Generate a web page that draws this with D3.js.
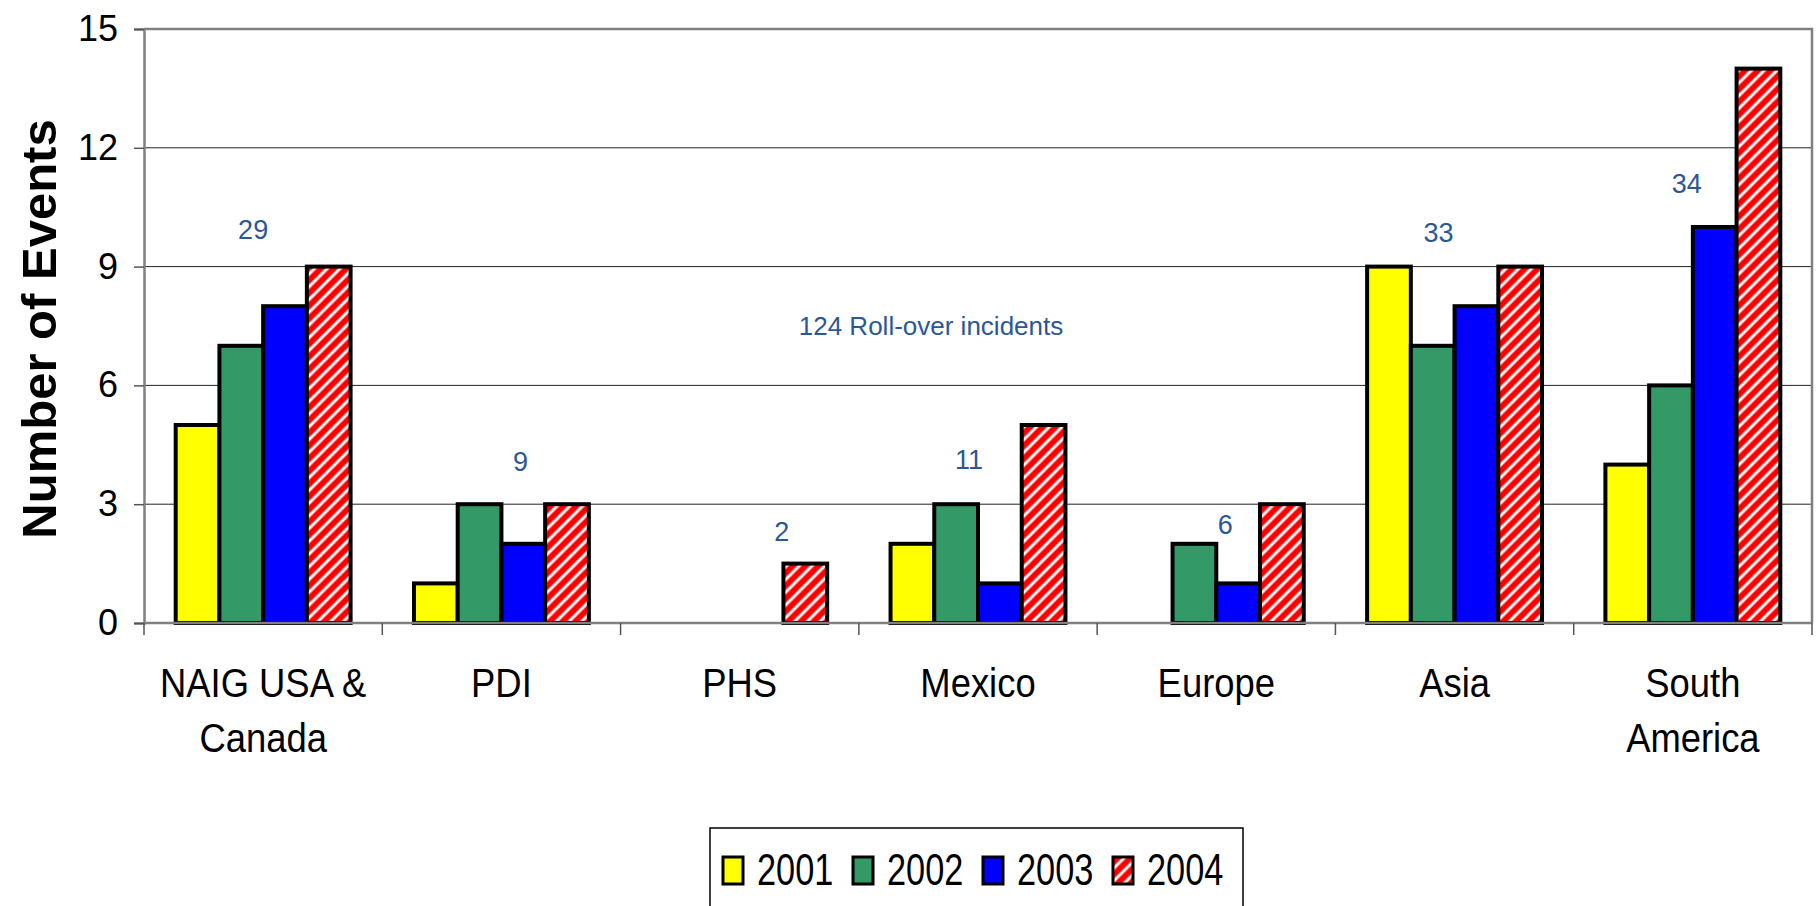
<!DOCTYPE html>
<html>
<head>
<meta charset="utf-8">
<script src="https://cdn.jsdelivr.net/npm/d3@7"></script>
<style>
  body { margin: 0; background: #fff; }
  text { font-family: "Liberation Sans", Arial, sans-serif; }
</style>
</head>
<body>
<div id="chart"></div>
<script>
// data
const categories = ["NAIG USA &\nCanada", "PDI", "PHS", "Mexico", "Europe", "Asia", "South\nAmerica"];
const years = ["2001", "2002", "2003", "2004"];
const v2001 = [5, 1, 0, 2, 0, 9, 4];
const v2002 = [7, 3, 0, 3, 2, 7, 6];
const v2003 = [8, 2, 0, 1, 1, 8, 10];
const v2004 = [9, 3, 1.5, 5, 3, 9, 14];
const totals = [29, 9, 2, 11, 6, 33, 34];
const yTicks = [0, 3, 6, 9, 12, 15];
const noteText = "124 Roll-over incidents";

const series = [v2001, v2002, v2003, v2004];
const colors = ["#ffff00", "#339966", "#0000ff", "url(#hatch)"];

var W = 1818, H = 906;
var margin = {top: 29, right: 6, bottom: 283, left: 144},
    width = W - margin.left - margin.right,
    height = H - margin.top - margin.bottom;

var root = d3.select("#chart").append("svg")
    .attr("width", W)
    .attr("height", H);

// red / white diagonal hatch for 2004
var pat = root.append("defs").append("pattern")
    .attr("id", "hatch")
    .attr("patternUnits", "userSpaceOnUse")
    .attr("width", 9).attr("height", 9)
    .attr("patternTransform", "rotate(45)");
pat.append("rect").attr("width", 9).attr("height", 9).attr("fill", "#ff0000");
pat.append("line").attr("x1", 2).attr("x2", 2).attr("y1", 0).attr("y2", 9)
    .attr("stroke", "#fff").attr("stroke-width", 3);

var svg = root.append("g")
    .attr("transform", `translate(${margin.left}, ${margin.top})`);

var x0 = d3.scaleBand().domain(d3.range(categories.length)).range([0, width]).padding(0);
var gap = x0.bandwidth() * 0.133;
var x1 = d3.scaleBand().domain(d3.range(years.length)).range([gap, x0.bandwidth() - gap]);
var y = d3.scaleLinear().domain([0, 15]).range([height, 0]);

// gridlines
svg.append("g")
    .selectAll("line")
    .data(yTicks.filter(t => t > 0 && t < 15))
    .enter().append("line")
    .attr("x1", 0).attr("x2", width)
    .attr("y1", d => y(d)).attr("y2", d => y(d))
    .attr("stroke", "#222").attr("stroke-width", 1);

// plot frame (top / right)
svg.append("path")
    .attr("d", `M0,${y(15)}H${width}V${height}`)
    .attr("fill", "none").attr("stroke", "#808080").attr("stroke-width", 2.5);

// bars
svg.selectAll("g.cat")
    .data(categories)
    .enter().append("g")
    .attr("class", "cat")
    .attr("transform", (d, i) => `translate(${x0(i)},0)`)
    .each(function(d, i) {
        d3.select(this).selectAll("rect")
            .data(series.map((s, j) => ({j: j, v: s[i]})).filter(e => e.v > 0))
            .enter().append("rect")
            .attr("x", e => x1(e.j))
            .attr("width", x1.bandwidth())
            .attr("y", e => y(e.v))
            .attr("height", e => height - y(e.v))
            .attr("fill", e => colors[e.j])
            .attr("stroke", "#000")
            .attr("stroke-width", 4);
    });

// y axis
var yAxis = svg.append("g")
    .call(d3.axisLeft(y).tickValues(yTicks).tickSize(10).tickPadding(16).tickFormat(d3.format("d")));
yAxis.select(".domain").attr("stroke", "#808080").attr("stroke-width", 2.5);
yAxis.selectAll(".tick line").attr("stroke", "#555").attr("stroke-width", 1.5);
yAxis.selectAll(".tick text")
    .attr("font-size", 36).attr("fill", "#000")
    .style("font-family", "'Liberation Sans', Arial, sans-serif");

// x axis: line + ticks at category boundaries
var xg = svg.append("g").attr("transform", `translate(0,${height})`);
xg.append("line").attr("x1", 0).attr("x2", width)
    .attr("stroke", "#808080").attr("stroke-width", 2.5);
xg.selectAll("line.tk")
    .data(d3.range(categories.length + 1))
    .enter().append("line")
    .attr("class", "tk")
    .attr("x1", i => i * x0.step()).attr("x2", i => i * x0.step())
    .attr("y1", 0).attr("y2", 12)
    .attr("stroke", "#555").attr("stroke-width", 1.5);

// condensed category labels, as in the original
var xl = xg.selectAll("text.xl")
    .data(categories)
    .enter().append("text")
    .attr("class", "xl")
    .attr("text-anchor", "middle")
    .attr("font-size", 40)
    .attr("transform", (d, i) => `translate(${x0(i) + x0.bandwidth() / 2},74) scale(0.91,1)`);
xl.selectAll("tspan")
    .data(d => d.split("\n"))
    .enter().append("tspan")
    .attr("x", 0)
    .attr("dy", (d, i) => i === 0 ? 0 : 55)
    .text(d => d);

// y title
root.append("text")
    .attr("transform", `translate(56,${margin.top + height / 2 + 3}) rotate(-90)`)
    .attr("text-anchor", "middle")
    .attr("font-size", 49)
    .attr("font-weight", "bold")
    .text("Number of Events");

// totals per region (free text boxes in the original)
const noteDx = [-10, 19, 42, -9, 9, -16, -6];
const noteY = [9.69, 3.83, 2.06, 3.9, 2.26, 9.62, 10.86];
svg.selectAll("text.tot")
    .data(totals)
    .enter().append("text")
    .attr("class", "tot")
    .attr("text-anchor", "middle")
    .attr("font-size", 27)
    .attr("fill", "#2b5797")
    .attr("x", (d, i) => x0(i) + x0.bandwidth() / 2 + noteDx[i])
    .attr("y", (d, i) => y(noteY[i]))
    .text(d => d);

svg.append("text")
    .attr("text-anchor", "middle")
    .attr("font-size", 26)
    .attr("fill", "#2b5797")
    .attr("x", x0(3) + x0.bandwidth() / 2 - 47)
    .attr("y", y(7.27))
    .text(noteText);

// legend
var lg = root.append("g").attr("transform", "translate(710,828)");
lg.append("rect")
    .attr("width", 533).attr("height", 100)
    .attr("fill", "#fff").attr("stroke", "#000").attr("stroke-width", 1.5);
var li = lg.selectAll("g.li")
    .data(years)
    .enter().append("g")
    .attr("class", "li")
    .attr("transform", (d, i) => `translate(${13 + i * 130},0)`);
li.append("rect")
    .attr("y", 29).attr("width", 20).attr("height", 27)
    .attr("fill", (d, i) => colors[i])
    .attr("stroke", "#000").attr("stroke-width", 3);
li.append("text")
    .attr("transform", "translate(34,57) scale(0.78,1)")
    .attr("font-size", 44)
    .text(d => d);
</script>
</body>
</html>
